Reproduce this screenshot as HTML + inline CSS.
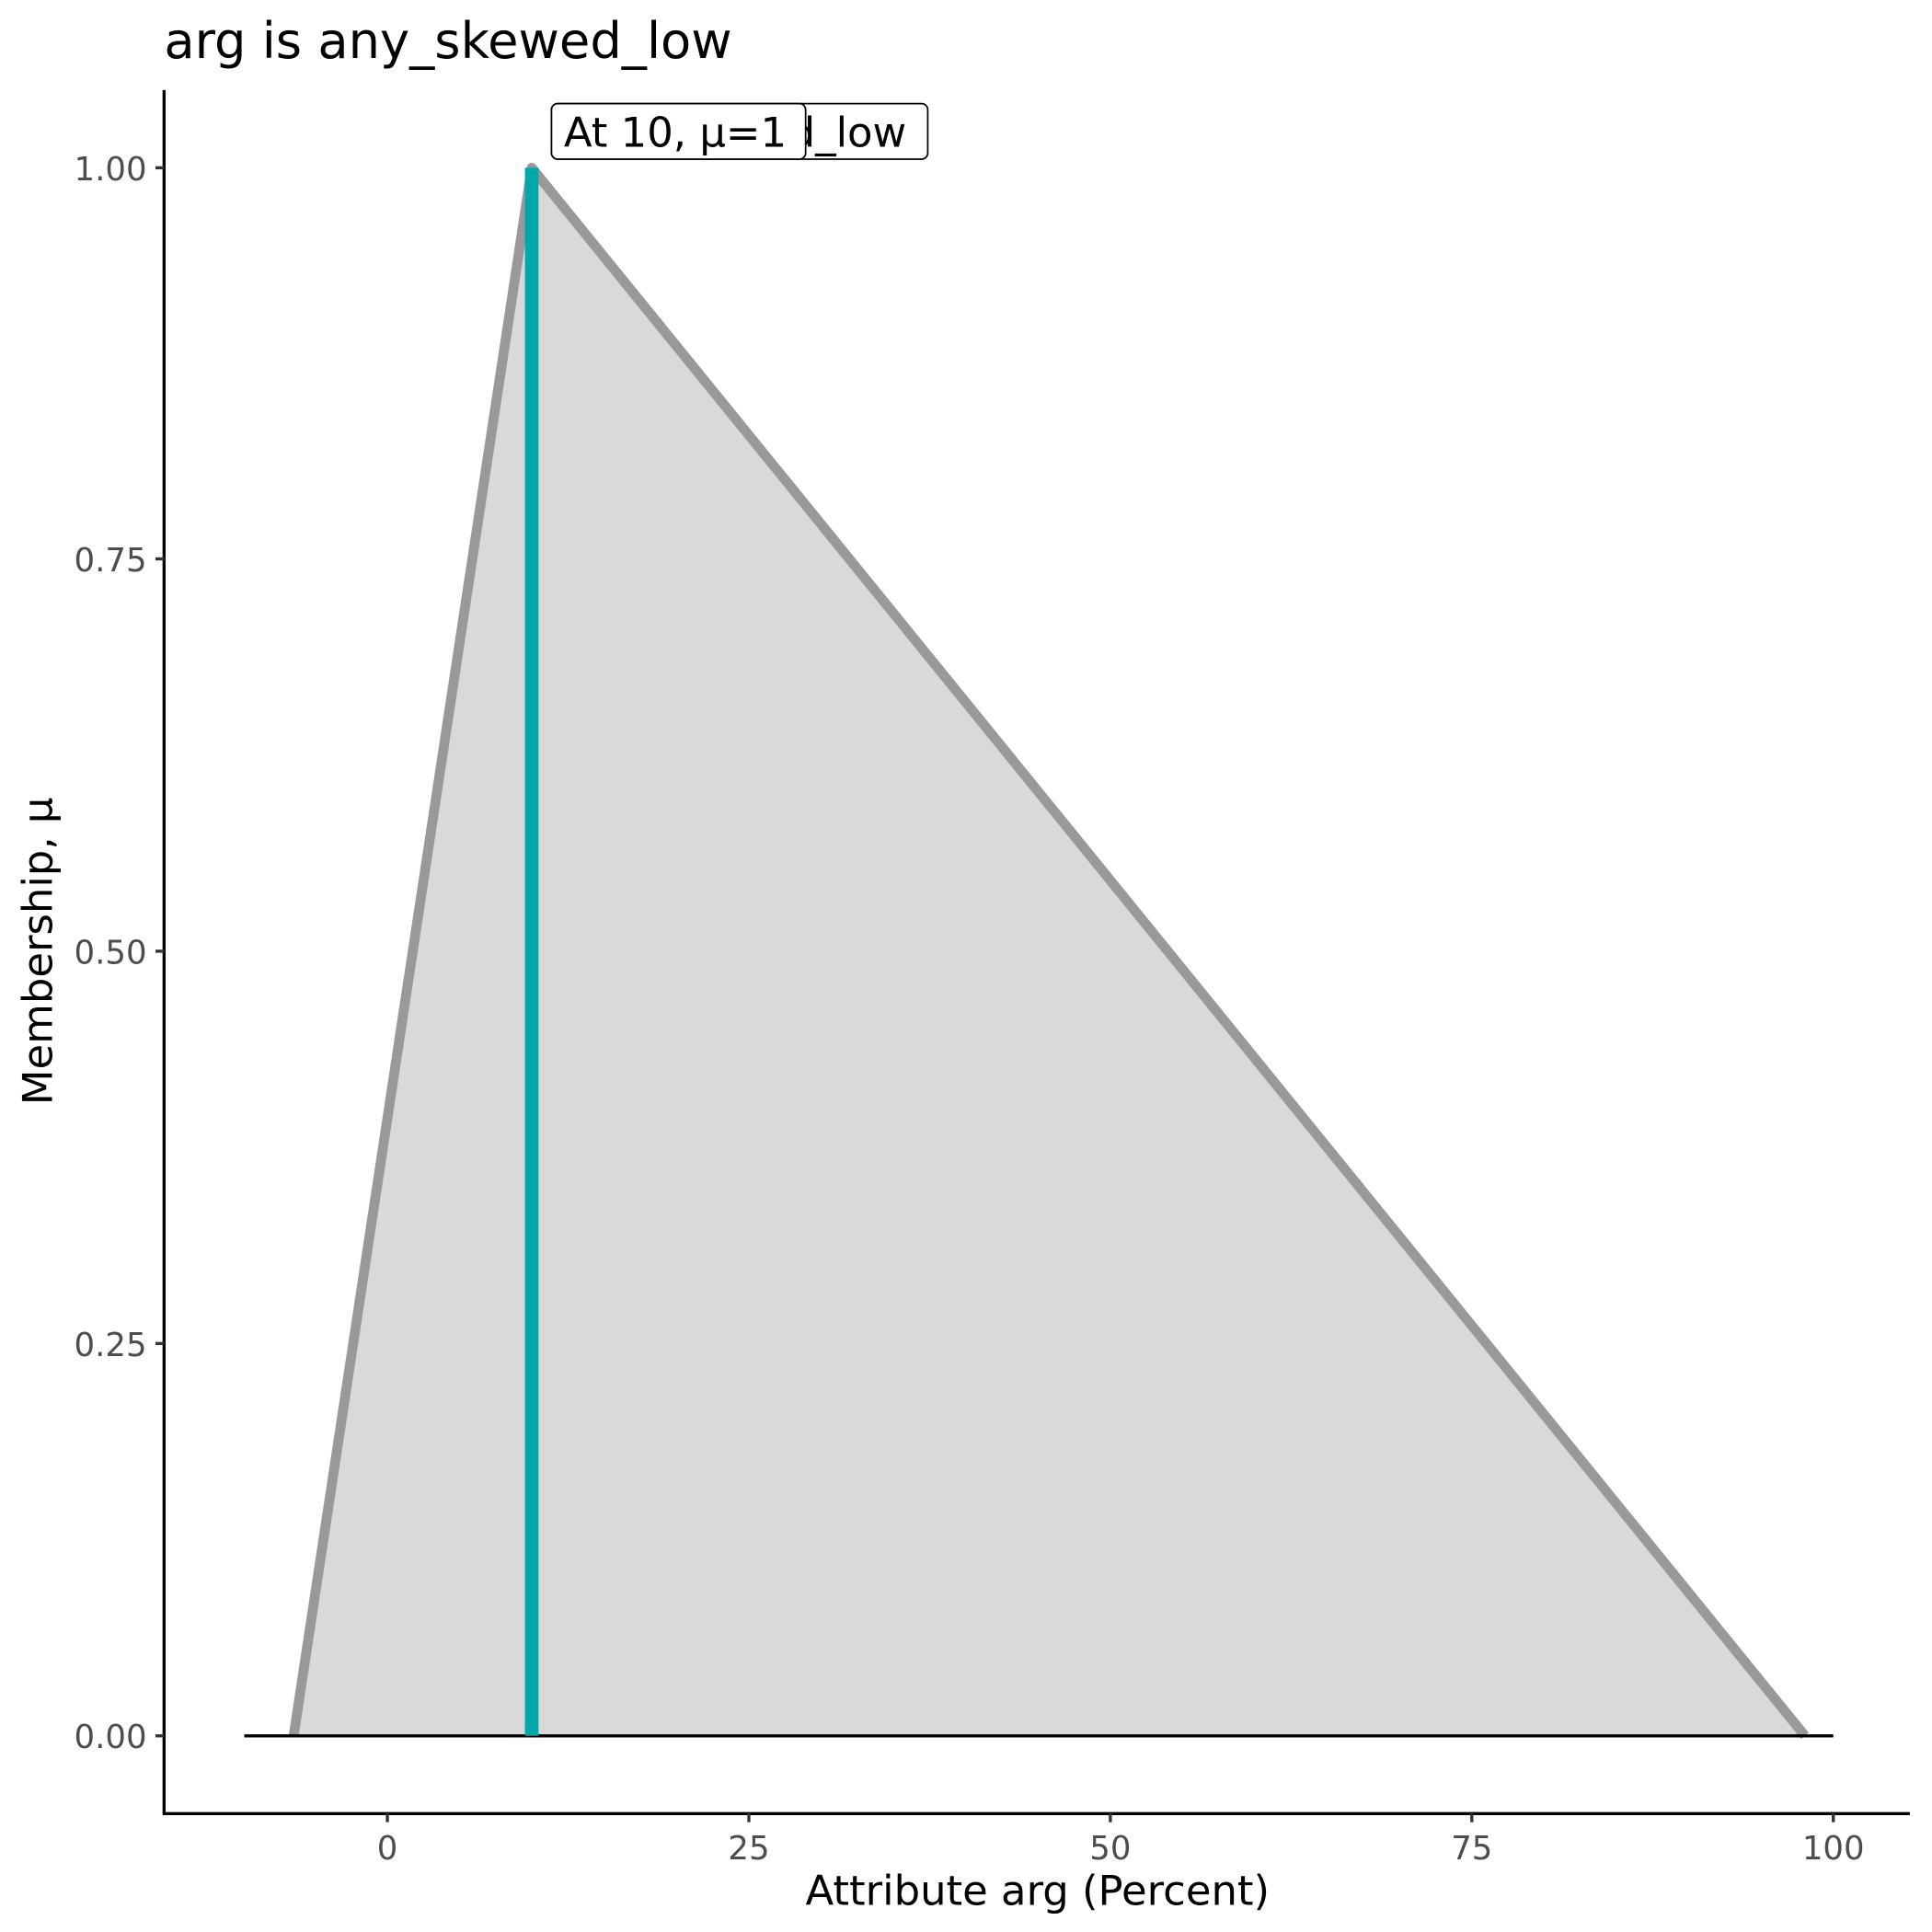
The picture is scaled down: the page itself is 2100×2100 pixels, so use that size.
<!DOCTYPE html>
<html><head><meta charset="utf-8"><style>html,body{margin:0;padding:0;background:#fff}svg{display:block}</style></head>
<body>
<svg width="2100" height="2100" viewBox="0 0 1566 1566" xmlns="http://www.w3.org/2000/svg" font-family="DejaVu Sans, Liberation Sans, sans-serif">
<rect width="1566" height="1566" fill="#fff"/>
<text x="133" y="47" font-size="40.5" fill="#000">arg is any_skewed_low</text>
<polygon points="238,1407 431,136 1463,1407" fill="#d9d9d9"/>
<polyline points="238,1407 431,136 1463,1407" fill="none" stroke="#999" stroke-width="8" stroke-linejoin="round"/>
<line x1="198" y1="1407" x2="1486" y2="1407" stroke="#000" stroke-width="2.5"/>
<line x1="431" y1="136" x2="431" y2="1407" stroke="#00a8a8" stroke-width="11"/>
<rect x="447" y="84" width="305" height="45" rx="5" fill="#fff" stroke="#000" stroke-width="1.3"/>
<text x="457" y="119" font-size="33.5" fill="#000">any_skewed_low</text>
<rect x="447" y="84" width="206" height="45" rx="5" fill="#fff" stroke="#000" stroke-width="1.3"/>
<text x="457" y="119" font-size="33.5" fill="#000">At 10, μ=1</text>
<line x1="133" y1="73" x2="133" y2="1471" stroke="#000" stroke-width="2.5"/>
<line x1="132" y1="1470" x2="1548" y2="1470" stroke="#000" stroke-width="2.5"/>
<g stroke="#333" stroke-width="2.5">
<line x1="126" y1="136" x2="133" y2="136"/><line x1="126" y1="453" x2="133" y2="453"/><line x1="126" y1="771" x2="133" y2="771"/><line x1="126" y1="1089" x2="133" y2="1089"/><line x1="126" y1="1407" x2="133" y2="1407"/>
<line x1="314" y1="1470" x2="314" y2="1477"/><line x1="607" y1="1470" x2="607" y2="1477"/><line x1="900" y1="1470" x2="900" y2="1477"/><line x1="1193" y1="1470" x2="1193" y2="1477"/><line x1="1486" y1="1470" x2="1486" y2="1477"/>
</g>
<g font-size="26.5" fill="#4d4d4d" text-anchor="end">
<text x="119" y="146">1.00</text><text x="119" y="463">0.75</text><text x="119" y="781">0.50</text><text x="119" y="1099">0.25</text><text x="119" y="1417">0.00</text>
</g>
<g font-size="26.5" fill="#4d4d4d" text-anchor="middle">
<text x="314" y="1507">0</text><text x="607" y="1507">25</text><text x="900" y="1507">50</text><text x="1193" y="1507">75</text><text x="1486" y="1507">100</text>
</g>
<text x="841" y="1544" font-size="33.5" text-anchor="middle" fill="#000">Attribute arg (Percent)</text>
<text transform="translate(42,771) rotate(-90)" font-size="33.5" text-anchor="middle" fill="#000">Membership, μ</text>
</svg>
</body></html>
